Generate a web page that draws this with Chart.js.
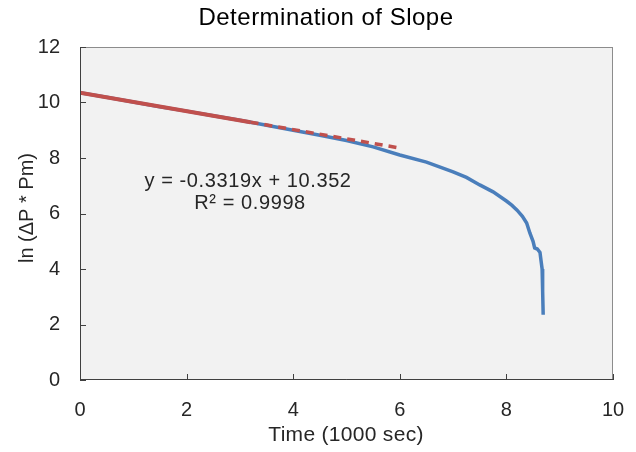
<!DOCTYPE html>
<html>
<head>
<meta charset="utf-8">
<script src="https://cdn.jsdelivr.net/npm/chart.js@4"></script>
<style>
body{margin:0;background:#fff;}
#wrap{width:636px;height:452px;}
</style>
</head>
<body>
<div id="wrap"><canvas id="slopeChart" width="636" height="452"></canvas></div>
<script>
/* DATA */
const timeK = [0,0.5,1,1.5,2,2.5,3,3.5,4,4.5,5,5.5,6,6.5,7,7.25,7.5,7.75,8,8.1,8.2,8.3,8.38,8.44,8.5,8.53,8.58,8.63,8.65,8.67,8.68,8.69];
const lnDP = [10.35,10.19,10.02,9.85,9.69,9.52,9.36,9.18,9.0,8.82,8.63,8.4,8.11,7.85,7.5,7.3,7.03,6.78,6.45,6.3,6.12,5.9,5.66,5.3,5.0,4.76,4.72,4.6,4.3,4.0,3.2,2.35];
const fitX = [0,3.2];
const fitY = [10.352,9.29];
const extX = [3.2,6.0];
const extY = [9.29,8.36];
const xTicks = [0,2,4,6,8,10];
const yTicks = [0,2,4,6,8,10,12];
const eqText = ['y = -0.3319x + 10.352','R\u00b2 = 0.9998'];

function pts(xs,ys){ return xs.map((x,i)=>({x:x,y:ys[i]})); }

const FONT = "'Liberation Sans', Arial, sans-serif";

/* background, frame, inside ticks, titles, equation */
const decor = {
id:'decor',
beforeDraw(chart){
const {ctx,chartArea:a} = chart;
ctx.save();
ctx.fillStyle = '#f2f2f2';
ctx.fillRect(a.left,a.top,a.right-a.left,a.bottom-a.top);
ctx.restore();
},
afterDatasetsDraw(chart){
const {ctx,chartArea:a,scales} = chart;
ctx.save();
ctx.strokeStyle = '#8c8c8c';
ctx.lineWidth = 1;
ctx.strokeRect(a.left+0.5,a.top+0.5,a.right-a.left-1,a.bottom-a.top-1);
ctx.strokeStyle = '#404040';
ctx.beginPath();
xTicks.forEach(v=>{
const px = Math.round(scales.x.getPixelForValue(v))+0.5;
ctx.moveTo(px,a.bottom); ctx.lineTo(px,a.bottom-6);
});
yTicks.forEach(v=>{
const py = Math.round(scales.y.getPixelForValue(v))+0.5;
ctx.moveTo(a.left,py); ctx.lineTo(a.left+6,py);
});
ctx.moveTo(a.left+0.5,a.top); ctx.lineTo(a.left+0.5,a.bottom-0.5);
ctx.lineTo(a.right,a.bottom-0.5);
ctx.stroke();

ctx.textAlign = 'center';
ctx.textBaseline = 'middle';

ctx.fillStyle = '#000';
ctx.font = '24px ' + FONT;
ctx.letterSpacing = '0.5px';
ctx.fillText('Determination of Slope',326,18);

ctx.fillStyle = '#262626';
ctx.font = '20px ' + FONT;
ctx.letterSpacing = '0.6px';
ctx.fillText(eqText[0],248,181);
ctx.fillText(eqText[1],250,203);

ctx.font = '21px ' + FONT;
ctx.letterSpacing = '0.3px';
ctx.fillText('Time (1000 sec)',346,435);

ctx.letterSpacing = '0px';
ctx.translate(27,208);
ctx.rotate(-Math.PI/2);
ctx.font = '20px ' + FONT;
ctx.fillText('ln (\u0394P * Pm)',0,0);
ctx.restore();
}
};

new Chart(
document.getElementById('slopeChart'),
{
type:'scatter',
data:{
datasets:[
{
label:'Data',
data:pts(timeK,lnDP),
showLine:true,
borderColor:'#4a7ebb',
borderWidth:3.5,
pointRadius:0,
order:2
},
{
label:'Fit',
data:pts(fitX,fitY),
showLine:true,
borderColor:'#c0504d',
borderWidth:4,
pointRadius:0,
order:1
},
{
label:'Extension',
data:pts(extX,extY),
showLine:true,
borderColor:'#c0504d',
borderWidth:3.5,
borderDash:[8,6],
pointRadius:0,
order:1
}
]
},
options:{
responsive:false,
animation:false,
layout:{padding:{top:47,right:23,left:0,bottom:0}},
plugins:{legend:{display:false},tooltip:{enabled:false}},
scales:{
x:{
type:'linear',min:0,max:10,
afterBuildTicks(s){ s.ticks = xTicks.map(v=>({value:v})); },
afterFit(s){ s.height = 72; s.paddingLeft = 0; s.paddingRight = 0; },
grid:{display:false,drawTicks:false},
border:{display:false},
ticks:{padding:18,color:'#262626',font:{family:FONT,size:20}}
},
y:{
type:'linear',min:0,max:12,
afterBuildTicks(s){ s.ticks = yTicks.map(v=>({value:v})); },
afterFit(s){ s.width = 80; s.paddingTop = 0; s.paddingBottom = 0; },
grid:{display:false,drawTicks:false},
border:{display:false},
ticks:{padding:20,color:'#262626',font:{family:FONT,size:20}}
}
}
},
plugins:[decor]
}
);
</script>
</body>
</html>
